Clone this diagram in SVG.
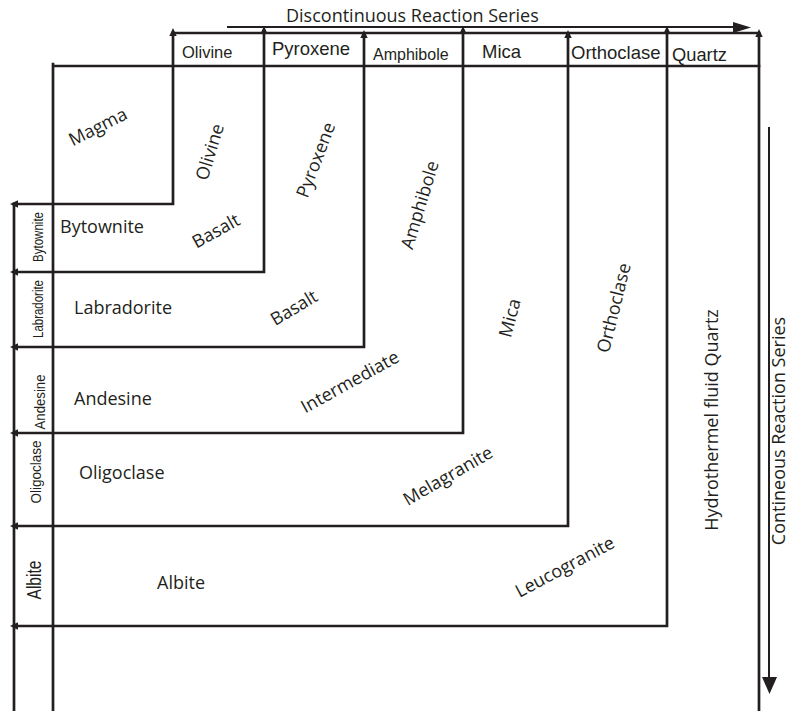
<svg xmlns="http://www.w3.org/2000/svg" width="791" height="711" viewBox="0 0 791 711">
<style>
.ln{stroke:#231f20;stroke-width:2.7;fill:none;stroke-linecap:square}
.th{stroke:#231f20;stroke-width:2;fill:none}
.ah{fill:#231f20;stroke:none}
.hd{font-family:"Liberation Sans",Arial,sans-serif;fill:#231f20}
.os{font-family:"Open Sans",sans-serif;font-size:18px;fill:#231f20}
.lb{font-family:"Liberation Sans",Arial,sans-serif;fill:#231f20;text-anchor:middle}
.mid{text-anchor:middle}
</style>
<rect width="791" height="711" fill="#ffffff"/>
<g id="connectors">
  <path class="ln" d="M173 33 H759 M53 66 H759 M53 64 V711 M14 204 V711"/>
  <path class="ln" d="M173 34 V204 H14 M264 31 V272 H14 M364 35 V347 H14 M463 31 V433 H14 M568 35 V526 H14 M667 31 V626 H14 M759 34 V711"/>
  <path class="th" d="M227 27 H735 M769 127 V680"/>
  <polygon class="ah" points="733,22 751,27.5 733,33"/>
  <polygon class="ah" points="762,677 769.5,694 777,677"/>
  <polygon class="ah" points="173,28 169.3,36 176.7,36"/>
  <polygon class="ah" points="264,26 260.3,34 267.7,34"/>
  <polygon class="ah" points="364,30 360.3,38 367.7,38"/>
  <polygon class="ah" points="463,26 459.3,34 466.7,34"/>
  <polygon class="ah" points="568,30 564.3,38 571.7,38"/>
  <polygon class="ah" points="667,26 663.3,34 670.7,34"/>
  <polygon class="ah" points="759,29 755.3,37 762.7,37"/>
  <polygon class="ah" points="10,204 18,200.3 18,207.7"/>
  <polygon class="ah" points="10,272 18,268.3 18,275.7"/>
  <polygon class="ah" points="10,347 18,343.3 18,350.7"/>
  <polygon class="ah" points="10,433 18,429.3 18,436.7"/>
  <polygon class="ah" points="10,526 18,522.3 18,529.7"/>
  <polygon class="ah" points="10,626 18,622.3 18,629.7"/>
</g>
<g id="series-labels">
  <text class="os" x="286" y="22">Discontinuous Reaction Series</text>
  <text class="os mid" transform="translate(785,431) rotate(-90)" x="0" y="0" font-size="17.5">Contineous Reaction Series</text>
</g>
<g id="header">
  <g id="h-olivine"><text class="hd" x="182" y="58" font-size="16.5">Olivine</text></g>
  <g id="h-pyroxene"><text class="hd" x="272" y="55" font-size="18.5">Pyroxene</text></g>
  <g id="h-amphibole"><text class="hd" x="373" y="60" font-size="16">Amphibole</text></g>
  <g id="h-mica"><text class="hd" x="482" y="58" font-size="18.5">Mica</text></g>
  <g id="h-orthoclase"><text class="hd" x="571" y="59" font-size="18.5">Orthoclase</text></g>
  <g id="h-quartz"><text class="hd" x="672" y="61" font-size="18.3">Quartz</text></g>
</g>
<g id="left-column">
  <g id="l-bytownite"><text class="lb" transform="translate(43,237) rotate(-90)" font-size="14" textLength="50" lengthAdjust="spacingAndGlyphs">Bytownite</text></g>
  <g id="l-labradorite"><text class="lb" transform="translate(43,309) rotate(-90)" font-size="14" textLength="58" lengthAdjust="spacingAndGlyphs">Labradorite</text></g>
  <g id="l-andesine"><text class="lb" transform="translate(45,402) rotate(-90)" font-size="14" textLength="55" lengthAdjust="spacingAndGlyphs">Andesine</text></g>
  <g id="l-oligoclase"><text class="lb" transform="translate(41,472) rotate(-90)" font-size="15" textLength="63" lengthAdjust="spacingAndGlyphs">Oligoclase</text></g>
  <g id="l-albite"><text class="lb" transform="translate(41,580) rotate(-90)" font-size="20" textLength="39" lengthAdjust="spacingAndGlyphs">Albite</text></g>
</g>
<g id="rows">
  <g id="r-bytownite"><text class="os" x="60" y="233">Bytownite</text></g>
  <g id="r-labradorite"><text class="os" x="74" y="314">Labradorite</text></g>
  <g id="r-andesine"><text class="os" x="74" y="405">Andesine</text></g>
  <g id="r-oligoclase"><text class="os" x="79" y="479">Oligoclase</text></g>
  <g id="r-albite"><text class="os" x="157" y="589">Albite</text></g>
</g>
<g id="zones">
  <g id="z-magma"><text class="os mid" transform="translate(98,127) rotate(-27)" y="6">Magma</text></g>
  <g id="z-olivine"><text class="os mid" transform="translate(210,152) rotate(-73)" y="6">Olivine</text></g>
  <g id="z-basalt1"><text class="os mid" transform="translate(216,231) rotate(-29)" y="6">Basalt</text></g>
  <g id="z-pyroxene"><text class="os mid" transform="translate(316,160) rotate(-69)" y="6">Pyroxene</text></g>
  <g id="z-basalt2"><text class="os mid" transform="translate(294,308) rotate(-31)" y="6">Basalt</text></g>
  <g id="z-amphibole"><text class="os mid" transform="translate(420,205) rotate(-73)" y="6">Amphibole</text></g>
  <g id="z-intermediate"><text class="os mid" transform="translate(350,382) rotate(-29)" y="6">Intermediate</text></g>
  <g id="z-mica"><text class="os mid" transform="translate(510,318) rotate(-75)" y="6">Mica</text></g>
  <g id="z-melagranite"><text class="os mid" transform="translate(448,476) rotate(-30)" y="6">Melagranite</text></g>
  <g id="z-orthoclase"><text class="os mid" transform="translate(614,308) rotate(-76)" y="6">Orthoclase</text></g>
  <g id="z-leucogranite"><text class="os mid" transform="translate(565,567) rotate(-28)" y="6">Leucogranite</text></g>
  <g id="z-hydro"><text class="os mid" transform="translate(718,420) rotate(-90)">Hydrothermel fluid Quartz</text></g>
</g>
</svg>
